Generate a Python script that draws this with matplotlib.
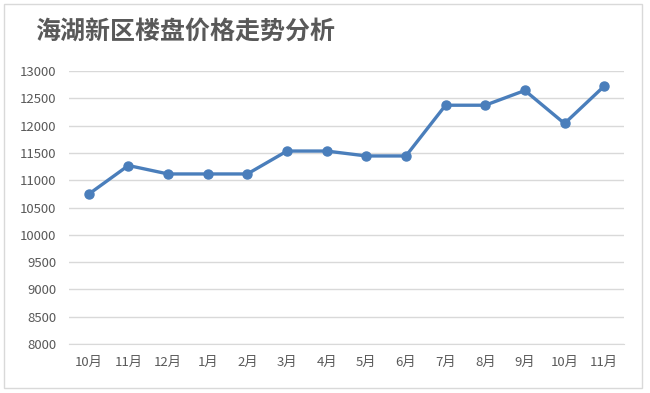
import matplotlib
matplotlib.use("Agg")
import matplotlib.pyplot as plt
from matplotlib.patches import Rectangle

plt.rcParams['font.family'] = ['Noto Sans CJK SC', 'DejaVu Sans']

months = ["10月", "11月", "12月", "1月", "2月", "3月", "4月", "5月", "6月",
          "7月", "8月", "9月", "10月", "11月"]
prices = [10745, 11270, 11115, 11115, 11115, 11535, 11535, 11445, 11445,
          12375, 12375, 12645, 12040, 12725]
y_ticks = list(range(8000, 13001, 500))
title = "海湖新区楼盘价格走势分析"

fig = plt.figure(figsize=(6.5, 3.93), dpi=100)
ax = fig.add_axes([0.106, 0.125, 0.854, 0.694])

x = list(range(len(months)))
ax.plot(x, prices, color="#4A7EBB", linewidth=2.4, marker="o",
        markersize=6.5, zorder=3)

ax.set_xlim(-0.5, len(months) - 0.5)
ax.set_ylim(8000, 13000)
ax.set_yticks(y_ticks)
ax.set_xticks(x)
ax.set_xticklabels(months)
ax.grid(axis="y", color="#D9D9D9", linewidth=1)
ax.set_axisbelow(True)
for s in ["top", "right", "left"]:
    ax.spines[s].set_visible(False)
ax.spines["bottom"].set_color("#D9D9D9")
ax.tick_params(axis="both", length=0, colors="#595959", labelsize=9.5)
ax.tick_params(axis="y", pad=9)
ax.tick_params(axis="x", pad=9)

fig.text(0.054, 0.92, title, fontsize=18, fontweight="bold",
         color="#595959", va="center", ha="left")

fig.patches.append(Rectangle((0.006, 0.0127), 0.9815, 0.977, transform=fig.transFigure,
                             fill=False, edgecolor="#D9D9D9", linewidth=1))

fig.savefig("out.png", dpi=100)
